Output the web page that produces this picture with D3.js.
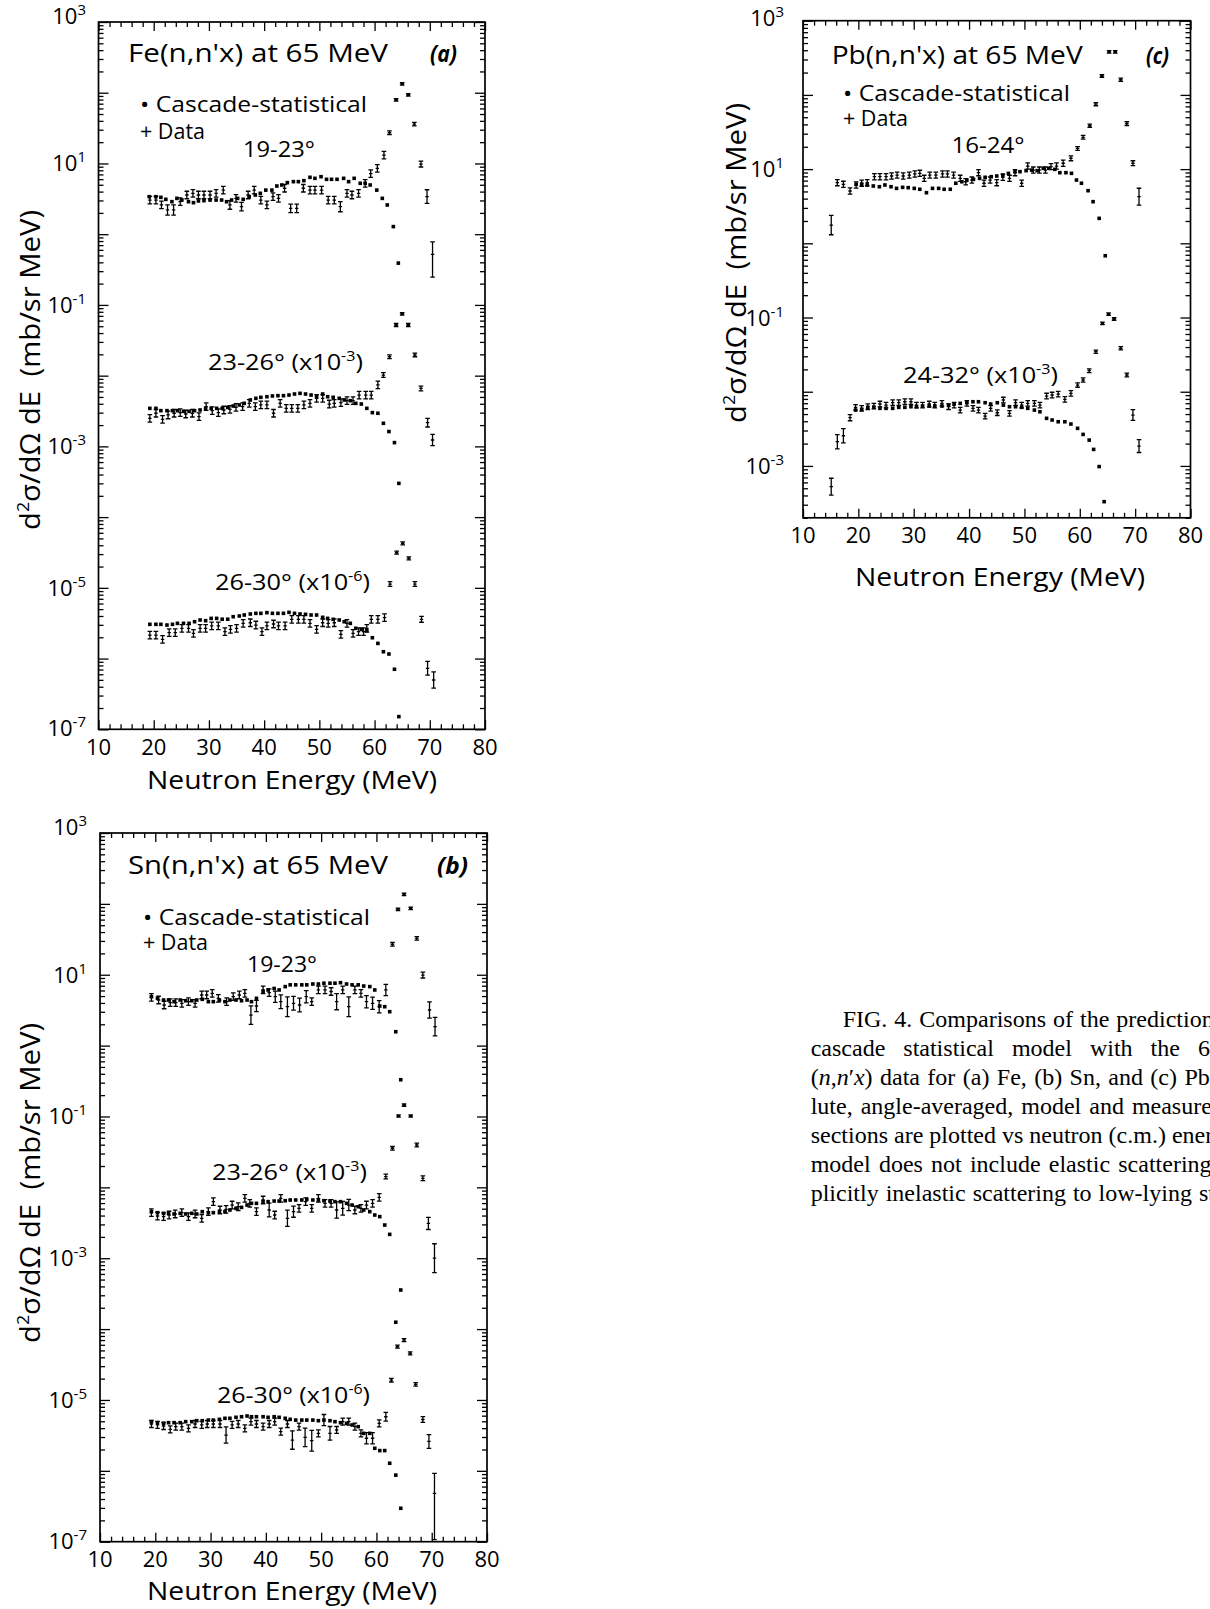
<!DOCTYPE html>
<html><head><meta charset="utf-8">
<script src="https://cdn.jsdelivr.net/npm/d3@7"></script>
<style>
body{margin:0;background:#fff}
svg{display:block}
text{font-family:'Open Sans',sans-serif;fill:#000}
.cap{font-family:'Liberation Serif','Times New Roman',serif;font-size:24px}
</style>
</head><body>
<svg id="fig" width="1210" height="1609"></svg>
<script>
// ---------------- data ----------------
const xTicks = [10,20,30,40,50,60,70,80];
const yLabelExpFull = [3,1,-1,-3,-5,-7];
const yLabelExpPb = [3,1,-1,-3];
const seriesScale = [1, 1e-3, 1e-6];

// (a) Fe 19-23 deg
const feM1E = [19.2,20.4,21.3,22.2,23.3,24.2,25.1,26.3,27.2,28.1,29.1,30.2,31.3,32.3,33.2,34.1,35.2,36.2,37.3,38.4,39.3,40.3,41.4,42.3,43.2,44.2,45.3,46.2,47.2,48.3,49.2,50.3,51.3,52.2,53.2,54.4,55.3,56.3,57.4,58.3,59.2,60.4,61.4,62.3,63.4,64.3];
const feM1V = [3.39,3.39,3.32,3.11,2.88,3.21,3.04,2.88,2.79,2.95,2.98,3.04,3.04,3.04,2.88,3.04,3.21,3.11,3.39,3.58,3.78,4.2,4.2,4.8,4.96,5.35,5.53,5.53,5.71,6.37,6.16,6.5,5.97,5.97,5.97,6.16,5.53,6.16,5.24,5.24,4.96,4.2,3.21,2.59,1.28,0.39];
const feD1E = [19.3,20.4,21.4,22.5,23.6,24.8,26.0,27.1,28.1,29.1,30.2,31.3,32.6,33.8,34.9,35.9,37.1,38.2,39.4,40.5,41.6,42.6,43.7,44.8,45.9,47.1,48.3,49.2,50.4,51.6,52.7,53.8,55.0,55.9,57.1,58.3,59.3,60.5,61.7,62.7,63.9,65.0,66.1,67.2,68.4,69.5,70.5];
const feD1V = [3.04,3.04,2.59,2.2,2.2,2.88,3.58,3.78,3.58,3.58,3.58,3.78,4.2,2.59,3.21,2.45,3.58,4.2,3.04,2.59,3.39,3.21,4.46,2.32,2.32,4.46,4.2,4.2,4.2,3.04,3.04,2.45,3.78,3.58,3.78,5.24,7.2,8.5,13.1,27.2,79,133,93,36,9.8,3.4,0.52];
const feD1F = [1.13,1.13,1.13,1.18,1.18,1.13,1.13,1.13,1.13,1.13,1.13,1.13,1.13,1.15,1.13,1.15,1.13,1.13,1.13,1.13,1.13,1.13,1.13,1.15,1.15,1.13,1.13,1.13,1.13,1.13,1.13,1.18,1.13,1.13,1.13,1.13,1.13,1.13,1.13,1.06,1.04,1.04,1.04,1.06,1.1,1.25,[2.1,1.5]];

// (a) Fe 23-26 deg (x10^-3)
const feM2E = [19.3,20.4,21.3,22.4,23.4,24.3,25.4,26.4,27.4,28.4,29.4,30.4,31.4,32.4,33.4,34.4,35.5,36.4,37.5,38.5,39.4,40.5,41.5,42.5,43.5,44.5,45.5,46.5,47.5,48.5,49.5,50.6,51.5,52.5,53.6,54.5,55.6,56.6,57.6,58.6,59.6,60.6,61.6,62.6,63.6,64.4];
const feM2V = [3.45,3.45,3.2,3.2,3.2,3.2,3.13,3.13,3.2,3.27,3.45,3.45,3.45,3.45,3.56,3.72,3.85,4.06,4.53,4.78,4.94,5.04,5.16,5.21,5.21,5.32,5.5,5.62,5.5,5.32,5.04,5.5,5.04,4.94,4.78,4.53,4.43,4.06,3.97,3.45,3.0,2.94,2.12,1.62,1.13,0.30];
const feD2E = [19.3,20.4,21.6,22.6,23.7,24.8,25.8,27.0,28.2,29.5,30.6,31.7,32.7,33.8,34.9,36.1,37.3,38.4,39.4,40.5,41.7,42.9,44.0,45.0,46.1,47.2,48.3,49.5,50.6,51.8,52.7,53.9,55.0,56.1,57.2,58.4,59.4,60.6,61.6,62.7,63.9,65.0,66.1,67.3,68.4,69.6,70.5];
const feD2V = [2.49,2.94,2.41,2.78,2.94,3.0,2.87,2.94,2.63,3.64,3.2,3.0,3.27,3.34,3.56,3.64,4.06,3.64,3.85,3.85,2.94,4.06,3.45,3.45,3.45,3.85,4.06,4.78,4.78,3.97,4.06,4.15,4.43,4.43,5.32,5.32,5.32,7.4,10.2,18.5,52,74.5,52,19.6,6.6,2.16,1.23];
const feD2F = [1.13,1.13,1.13,1.13,1.13,1.13,1.13,1.13,1.13,1.13,1.13,1.13,1.13,1.13,1.13,1.13,1.13,1.13,1.13,1.13,1.13,1.13,1.13,1.13,1.13,1.13,1.13,1.13,1.13,1.13,1.13,1.13,1.13,1.13,1.13,1.13,1.13,1.13,1.08,1.06,1.05,1.04,1.05,1.06,1.08,1.15,1.2];

// (a) Fe 26-30 deg (x10^-6)
const feM3V = [3.05,3.05,3.05,2.98,3.05,3.15,3.15,3.15,3.32,3.51,3.43,3.7,3.7,3.6,3.6,3.91,4.0,4.13,4.27,4.36,4.36,4.46,4.36,4.36,4.36,4.5,4.36,4.27,4.22,4.13,4.13,3.83,3.7,3.59,3.51,3.32,3.15,2.68,2.59,2.48,1.97,1.64,1.25,1.16,0.706,0.151];
const feD3E = [19.3,20.4,21.6,22.8,23.9,25.1,26.3,27.2,28.4,29.4,30.5,31.7,32.9,33.9,35.0,36.2,37.5,38.5,39.6,40.5,41.7,42.6,43.8,45.0,46.2,47.2,48.3,49.5,50.6,51.6,52.7,53.9,55.0,56.1,57.1,58.0,58.6,59.4,60.6,61.8,62.8,64.0,65.1,66.2,67.3,68.5,69.6,70.7];
const feD3V = [2.15,2.15,1.87,2.32,2.32,2.68,2.68,2.27,2.68,2.68,2.89,2.89,2.4,2.59,2.68,3.15,3.21,2.98,2.4,2.89,3.08,2.89,2.89,3.59,3.59,3.59,3.15,2.59,3.21,3.15,3.21,2.2,3.15,2.27,2.4,2.4,2.68,3.59,3.59,3.79,11.3,31.4,42.5,26.1,11.3,3.59,0.728,0.498];
const feD3F = [1.13,1.13,1.13,1.13,1.13,1.13,1.13,1.13,1.13,1.13,1.13,1.13,1.13,1.13,1.13,1.13,1.13,1.13,1.13,1.13,1.13,1.13,1.13,1.13,1.13,1.13,1.13,1.13,1.13,1.13,1.13,1.13,1.13,1.13,1.13,1.13,1.13,1.13,1.13,1.13,1.08,1.05,1.05,1.05,1.08,1.1,1.25,1.3];

// (b) Sn 19-23 deg
const snME = [19.3,20.4,21.5,22.4,23.4,24.5,25.5,26.6,27.5,28.5,29.6,30.5,31.6,32.6,33.5,34.6,35.6,36.6,37.4,38.3,39.5,40.4,41.5,42.4,43.5,44.4,45.4,46.5,47.4,48.5,49.5,50.5,51.6,52.5,53.5,54.6,55.6,56.7,57.7,58.8,59.7,60.6,61.5,62.4,63.5,64.4];
const snM1V = [4.9,4.65,4.4,4.4,4.17,4.4,4.3,4.3,4.4,4.5,4.17,4.17,4.4,4.17,4.4,4.4,4.3,4.4,4.17,4.65,5.8,6.1,6.4,6.1,6.8,7.2,7.2,7.2,7.2,7.4,7.4,7.6,7.6,7.6,7.73,7.4,7.2,7.2,6.93,6.8,6.1,3.62,3.54,3.01,1.57,0.33];
const snD1E = [19.3,20.6,21.6,22.7,23.7,24.8,26.0,27.2,28.4,29.3,30.3,31.4,32.9,34.1,35.2,36.2,37.3,38.3,39.5,40.6,41.7,42.7,43.9,45.0,46.1,47.3,48.3,49.5,50.7,51.8,52.8,53.9,55.0,56.1,57.2,58.2,59.3,60.5,61.7,62.9,63.9,65.0,66.2,67.3,68.4,69.6,70.6];
const snD1V = [4.8,4.4,3.74,4.04,4.04,3.95,4.17,3.95,5.18,5.18,5.47,4.65,4.17,4.9,5.18,5.47,2.7,3.62,6.1,5.58,4.9,4.17,3.54,3.95,3.74,4.9,4.17,6.1,6.1,5.8,4.17,6.1,3.54,6.1,5.47,4.17,3.95,3.54,6.1,26.9,83.8,136,86.5,32.6,9.9,3.18,1.85];
const snD1F = [1.13,1.13,1.13,1.13,1.13,1.13,1.13,1.13,1.13,1.13,1.13,1.13,1.13,1.13,1.13,1.13,1.35,1.2,1.13,1.13,1.2,1.25,1.38,1.25,1.25,1.22,1.13,1.13,1.13,1.13,1.3,1.13,1.38,1.13,1.13,1.22,1.22,1.22,1.2,1.06,1.04,1.04,1.04,1.06,1.1,1.3,1.35];

// (b) Sn 23-26 deg (x10^-3)
const snM2V = [4.54,4.39,4.3,4.3,4.21,4.3,4.21,4.3,4.21,4.54,4.39,4.39,4.54,4.54,4.79,5.06,5.22,5.63,5.95,5.95,6.28,6.28,6.41,6.41,6.48,6.63,6.63,6.63,6.78,6.63,6.63,6.48,6.41,6.28,6.28,5.95,5.63,5.33,4.79,4.54,4.07,3.86,2.94,2.17,0.125,0.356];
const snD2E = [19.3,20.4,21.5,22.5,23.6,24.8,26.0,27.2,28.4,29.6,30.5,31.7,32.8,33.9,35.0,36.2,37.1,38.3,39.5,40.6,41.6,42.7,43.9,45.0,46.0,47.2,48.3,49.5,50.7,51.8,52.8,53.9,55.0,56.1,57.2,58.2,59.3,60.5,61.7,62.9,64.0,65.0,66.2,67.3,68.4,69.4,70.5];
const snD2V = [4.39,3.94,3.86,4.07,4.21,4.39,3.86,4.21,3.66,4.54,6.28,4.79,4.9,5.63,5.33,7.0,5.95,4.54,6.63,4.79,4.07,7.0,3.66,4.54,5.06,6.28,5.06,7.0,5.95,5.95,4.79,5.06,5.63,4.79,5.06,5.63,5.95,7.23,14.2,35.6,101.6,145,101.6,39.6,13.4,3.1,1.0];
const snD2F = [1.13,1.13,1.13,1.13,1.13,1.13,1.13,1.13,1.13,1.13,1.13,1.13,1.13,1.13,1.13,1.13,1.13,1.13,1.13,1.25,1.13,1.13,1.3,1.2,1.13,1.13,1.13,1.13,1.13,1.13,1.3,1.25,1.2,1.13,1.13,1.13,1.13,1.13,1.08,1.06,1.04,1.04,1.04,1.06,1.08,1.22,1.6];

// (b) Sn 26-30 deg (x10^-6)
const snM3V = [4.94,4.78,4.68,4.78,4.78,4.78,4.94,4.94,5.1,5.1,5.2,5.2,5.33,5.51,5.51,5.69,5.8,5.94,5.8,5.8,5.8,5.69,5.8,5.69,5.51,5.33,5.2,5.2,5.2,5.2,5.1,5.2,5.1,4.94,4.78,4.68,4.44,4.2,3.38,3.38,2.08,1.93,1.93,1.28,0.87,0.296];
const snD3E = [19.3,20.4,21.5,22.7,23.7,24.8,26.0,27.2,28.4,29.4,30.5,31.7,32.8,33.9,35.0,36.2,37.3,38.3,39.5,40.6,41.6,42.7,43.9,44.8,46.0,47.1,48.3,49.5,50.5,51.6,52.8,53.9,55.0,56.1,57.2,58.2,59.3,60.5,61.7,62.7,63.8,65.0,66.1,67.1,68.4,69.5,70.5];
const snD3V = [4.58,4.44,4.29,3.85,4.2,4.2,3.98,4.58,4.44,4.58,4.58,4.58,3.2,4.44,4.58,3.98,4.94,4.58,4.2,4.58,4.94,3.57,4.58,2.72,4.2,2.97,2.66,3.38,5.2,3.38,3.77,4.94,4.94,4.2,3.38,2.88,2.88,4.68,5.8,19,56.5,70,45.5,16.6,5.3,2.6,0.48];
const snD3F = [1.12,1.12,1.12,1.12,1.12,1.12,1.12,1.12,1.12,1.12,1.12,1.12,1.3,1.12,1.12,1.12,1.12,1.12,1.12,1.12,1.12,1.12,1.12,1.35,1.12,1.35,1.4,1.12,1.2,1.25,1.12,1.12,1.12,1.12,1.12,1.2,1.2,1.12,1.15,1.06,1.05,1.05,1.05,1.06,1.1,1.25,[4.5,1.92]];

// (c) Pb 16-24 deg
const pbM1E = [19.6,20.6,21.6,22.7,23.8,24.8,25.9,26.9,28.0,29.0,30.1,31.1,32.3,33.4,34.5,35.5,36.6,37.6,38.7,39.6,40.8,41.9,42.9,44.0,45.0,46.1,47.1,48.3,49.2,50.3,51.3,52.3,53.4,54.4,55.5,56.4,57.5,58.5,59.4,60.3,61.5,62.4,63.5,64.6];
const pbM1V = [6.24,6.24,6.11,5.92,5.79,6.11,5.79,5.5,5.68,5.62,5.5,5.35,4.81,5.5,5.5,5.35,5.35,6.45,6.76,7.12,7.28,7.51,7.75,7.9,8.07,8.3,8.77,9.23,9.23,9.53,9.7,9.53,10.26,10.26,9.93,8.95,8.95,8.77,7.12,6.45,5.12,3.64,2.17,0.68];
const pbD1E = [15.1,16.2,17.3,18.5,19.6,20.6,21.6,22.9,23.9,25.0,26.0,27.0,28.1,29.2,30.2,31.1,31.9,32.9,34.0,35.2,36.1,37.2,38.4,39.4,40.5,41.7,42.7,43.8,45.0,46.1,47.3,48.3,49.5,50.6,51.6,52.7,53.8,54.8,55.8,57.0,58.4,59.6,60.6,61.8,62.9,64.0,65.3,66.4,67.4,68.5,69.6,70.7];
const pbD1V = [1.76,6.56,6.24,5.07,6.11,6.45,6.56,7.9,7.9,7.9,8.07,8.3,8.07,8.3,8.6,8.77,7.51,8.3,8.3,8.6,8.6,8.3,7.51,6.76,7.12,8.95,6.45,7.12,6.56,7.75,7.51,8.95,6.45,11.0,9.7,9.7,9.7,10.8,11.0,12.0,14.0,19.0,26.8,38.5,75,180,380,380,160,41,12,4.25];
const pbD1F = [1.35,1.1,1.1,1.1,1.1,1.1,1.1,1.1,1.1,1.1,1.1,1.1,1.1,1.1,1.1,1.1,1.1,1.1,1.1,1.1,1.1,1.1,1.1,1.1,1.1,1.1,1.1,1.1,1.1,1.1,1.1,1.1,1.1,1.1,1.1,1.1,1.1,1.1,1.1,1.1,1.08,1.06,1.06,1.05,1.05,1.04,1.04,1.04,1.05,1.06,1.08,1.3];

// (c) Pb 24-32 deg (x10^-3)
const pbM2E = [19.5,20.6,21.7,22.8,23.9,25.0,26.2,27.3,28.4,29.5,30.5,31.6,32.8,33.8,35.1,36.3,37.3,38.4,39.6,40.7,41.7,42.9,43.9,45.1,46.2,47.3,48.4,49.5,50.6,51.8,52.8,54.0,55.0,56.1,57.3,58.4,59.6,60.6,61.7,62.5,63.5,64.4];
const pbM2V = [5.66,5.78,6.16,6.16,5.97,5.97,5.97,6.16,6.16,6.28,6.28,6.41,6.41,6.41,6.41,6.6,6.83,6.97,7.11,7.33,7.33,7.11,6.83,7.11,6.6,6.28,6.28,6.16,5.97,5.66,5.37,4.38,4.16,3.94,3.94,3.67,3.21,2.66,2.23,1.67,0.98,0.33];
const pbD2E = [15.1,16.2,17.3,18.5,19.5,20.6,21.7,22.8,23.9,25.0,26.2,27.3,28.4,29.5,30.5,31.6,32.8,33.8,35.1,36.3,37.3,38.4,39.6,40.7,41.7,42.9,43.9,45.1,46.2,47.3,48.4,49.5,50.6,51.8,52.8,54.0,55.0,56.1,57.3,58.4,59.6,60.6,61.7,62.9,64.1,65.2,66.2,67.4,68.5,69.6,70.7];
const pbD2V = [0.525,2.12,2.55,4.47,6.16,5.97,6.28,6.41,6.83,6.6,7.11,7.11,7.33,7.33,6.6,6.6,6.83,6.6,6.97,6.28,6.6,5.66,6.97,5.97,5.66,4.7,5.97,5.21,7.73,5.11,7.11,6.6,6.97,6.97,6.6,8.75,9.03,9.3,7.9,9.5,12.3,14.4,19.2,34.6,83.5,111,95.5,38.5,16.8,4.85,1.85];
const pbD2F = [1.3,1.25,1.25,1.1,1.09,1.09,1.09,1.09,1.09,1.09,1.09,1.09,1.09,1.09,1.09,1.09,1.09,1.09,1.09,1.09,1.09,1.09,1.09,1.09,1.09,1.09,1.09,1.09,1.09,1.09,1.09,1.09,1.09,1.09,1.09,1.09,1.09,1.09,1.09,1.09,1.07,1.07,1.06,1.05,1.04,1.04,1.04,1.05,1.06,1.18,1.22];

// ---------------- layout ----------------
const panels = [
  { title:"Fe(n,n'x) at 65 MeV", tag:"(a)", l:98.5, r:485, t:22, b:729.3, ymin:1e-7, ymax:1e3, labExp:yLabelExpFull,
    labEnd:86, topOff:2, xLabBase:754.5, yTitleX:40, yTitleCy:370, xTitleBase:789, xTitleCx:292,
    titlePos:[128,62,260], tagPos:[430,62,27], legX:143, legY:[112,139],
    series:[
      {name:"19-23°", sc:0, mE:feM1E, mV:feM1V, dE:feD1E, dV:feD1V, dF:feD1F, lab:[279,157,'middle',72]},
      {name:"23-26°", sc:1, mE:feM2E, mV:feM2V, dE:feD2E, dV:feD2V, dF:feD2F, lab:[208,370,'start',155]},
      {name:"26-30°", sc:2, mE:feM2E, mV:feM3V, dE:feD3E, dV:feD3V, dF:feD3F, lab:[215,589.5,'start',155]}
    ]},
  { title:"Sn(n,n'x) at 65 MeV", tag:"(b)", l:100, r:487, t:833, b:1541.7, ymin:1e-7, ymax:1e3, labExp:yLabelExpFull,
    labEnd:87, topOff:2, xLabBase:1566.5, yTitleX:40, yTitleCy:1183, xTitleBase:1600, xTitleCx:292,
    titlePos:[128,874,260], tagPos:[437,874,31], legX:146, legY:[925,950],
    series:[
      {name:"19-23°", sc:0, mE:snME, mV:snM1V, dE:snD1E, dV:snD1V, dF:snD1F, lab:[282,972,'middle',70]},
      {name:"23-26°", sc:1, mE:snME, mV:snM2V, dE:snD2E, dV:snD2V, dF:snD2F, lab:[212,1180,'start',155]},
      {name:"26-30°", sc:2, mE:snME, mV:snM3V, dE:snD3E, dV:snD3V, dF:snD3F, lab:[217,1403,'start',153]}
    ]},
  { title:"Pb(n,n'x) at 65 MeV", tag:"(c)", l:803, r:1190.5, t:20.7, b:517.8, ymin:2e-4, ymax:1e3, labExp:yLabelExpPb,
    labEnd:784, topOff:5, xLabBase:543, yTitleX:746, yTitleCy:263, xTitleBase:586, xTitleCx:1000,
    titlePos:[831.7,64,251], tagPos:[1146,64,23], legX:846, legY:[101,126],
    series:[
      {name:"16-24°", sc:0, mE:pbM1E, mV:pbM1V, dE:pbD1E, dV:pbD1V, dF:pbD1F, lab:[988,153,'middle',73]},
      {name:"24-32°", sc:1, mE:pbM2E, mV:pbM2V, dE:pbD2E, dV:pbD2V, dF:pbD2F, lab:[903,383,'start',155]}
    ]}
];
const scaleExp = ['', '-3', '-6'];

const svg = d3.select('#fig');
const defs = svg.append('defs');

function addSup(textSel, base, exp, supSize, rise, tail) {
  textSel.append('tspan').text(base);
  textSel.append('tspan').attr('dy', -rise).attr('font-size', supSize).text(exp);
  if (tail !== undefined) textSel.append('tspan').attr('dy', rise).text(tail);
}

panels.forEach((P, pi) => {
  const x = d3.scaleLinear().domain([xTicks[0], xTicks[xTicks.length-1]]).range([P.l, P.r]);
  const y = d3.scaleLog().domain([P.ymin, P.ymax]).range([P.b, P.t]);
  const g = svg.append('g');

  const xMinor = [];
  for (let i = 0; i < xTicks.length-1; i++) for (let k = 1; k < 5; k++) xMinor.push(xTicks[i] + k*(xTicks[i+1]-xTicks[i])/5);
  const e0 = Math.floor(Math.log10(P.ymin)), e1 = Math.round(Math.log10(P.ymax));
  const yMajor = [], yMinor = [];
  for (let e = e0; e <= e1; e++) {
    const v = Math.pow(10, e);
    if (v >= P.ymin*0.999) yMajor.push(v);
    for (let m = 2; m < 10; m++) { const w = m*v; if (w >= P.ymin && w <= P.ymax) yMinor.push(w); }
  }

  const axes = [
    [d3.axisBottom(x).tickValues(xTicks).tickSize(-9), `translate(0,${P.b})`],
    [d3.axisBottom(x).tickValues(xMinor).tickSize(-5), `translate(0,${P.b})`],
    [d3.axisTop(x).tickValues(xTicks).tickSize(-9), `translate(0,${P.t})`],
    [d3.axisTop(x).tickValues(xMinor).tickSize(-5), `translate(0,${P.t})`],
    [d3.axisLeft(y).tickValues(yMajor).tickSize(-10), `translate(${P.l},0)`],
    [d3.axisLeft(y).tickValues(yMinor).tickSize(-5), `translate(${P.l},0)`],
    [d3.axisRight(y).tickValues(yMajor).tickSize(-10), `translate(${P.r},0)`],
    [d3.axisRight(y).tickValues(yMinor).tickSize(-5), `translate(${P.r},0)`]
  ];
  axes.forEach(([ax, tr]) => {
    const a = g.append('g').attr('transform', tr).call(ax.tickFormat(''));
    a.select('.domain').remove();
    a.selectAll('line').attr('stroke', '#000').attr('stroke-width', 1.3);
  });

  g.append('rect').attr('x', P.l).attr('y', P.t).attr('width', P.r-P.l).attr('height', P.b-P.t)
    .attr('fill', 'none').attr('stroke', '#000').attr('stroke-width', 1.7);

  g.selectAll(null).data(xTicks).join('text')
    .attr('x', d => x(d)).attr('y', P.xLabBase).attr('text-anchor', 'middle').attr('font-size', 22)
    .text(d => d);

  P.labExp.forEach((e, i) => {
    const yy = y(Math.pow(10, e));
    const off = i === 0 ? P.topOff : (Math.pow(10, e) <= P.ymin*1.001 ? 7 : 8);
    const t = g.append('text').attr('x', P.labEnd).attr('y', yy + off).attr('text-anchor', 'end').attr('font-size', 22);
    addSup(t, '10', String(e), 15, 9);
  });

  g.append('text').attr('x', P.xTitleCx).attr('y', P.xTitleBase).attr('text-anchor', 'middle')
    .attr('font-size', 26).attr('textLength', 290).attr('lengthAdjust', 'spacingAndGlyphs').text('Neutron Energy (MeV)');
  const yt = g.append('text').attr('transform', `translate(${P.yTitleX},${P.yTitleCy}) rotate(-90)`)
    .attr('text-anchor', 'middle').attr('font-size', 28).attr('textLength', 320).attr('lengthAdjust', 'spacingAndGlyphs');
  yt.append('tspan').text('d');
  yt.append('tspan').attr('dy', -11).attr('font-size', 17).text('2');
  yt.append('tspan').attr('dy', 11).text('σ/dΩ dE\u2002(mb/sr MeV)');

  g.append('text').attr('x', P.titlePos[0]).attr('y', P.titlePos[1]).attr('font-size', 26)
    .attr('textLength', P.titlePos[2]).attr('lengthAdjust', 'spacingAndGlyphs').text(P.title);
  g.append('text').attr('x', P.tagPos[0]).attr('y', P.tagPos[1]).attr('font-size', 24)
    .attr('font-weight', 'bold').attr('font-style', 'italic')
    .attr('textLength', P.tagPos[2]).attr('lengthAdjust', 'spacingAndGlyphs').text(P.tag);
  g.append('text').attr('x', P.legX - 3).attr('y', P.legY[0]).attr('font-size', 21)
    .attr('textLength', 227).attr('lengthAdjust', 'spacingAndGlyphs').text('• Cascade-statistical');
  g.append('text').attr('x', P.legX - 3).attr('y', P.legY[1]).attr('font-size', 21)
    .attr('textLength', 65).attr('lengthAdjust', 'spacingAndGlyphs').text('+ Data');

  const clipId = 'clip' + pi;
  defs.append('clipPath').attr('id', clipId).append('rect')
    .attr('x', P.l).attr('y', P.t).attr('width', P.r-P.l).attr('height', P.b-P.t);
  const mg = g.append('g').attr('clip-path', `url(#${clipId})`);

  P.series.forEach(s => {
    const k = seriesScale[s.sc];
    const mp = d3.zip(s.mE, s.mV).map(([E, v]) => ({E, v: v*k}));
    mg.append('g').selectAll('rect').data(mp).join('rect')
      .attr('x', d => x(d.E) - 1.8).attr('y', d => y(d.v) - 1.8)
      .attr('width', 3.6).attr('height', 3.6).attr('fill', '#000');
    const dp = d3.zip(s.dE, s.dV, s.dF).map(([E, v, f]) => ({E, v: v*k, f}));
    mg.append('g').selectAll('path').data(dp).join('path')
      .attr('fill', 'none').attr('stroke', '#000').attr('stroke-width', 1.3)
      .attr('d', d => {
        const fd = Array.isArray(d.f) ? d.f[0] : d.f, fu = Array.isArray(d.f) ? d.f[1] : d.f;
        const X = x(d.E), Y = y(d.v), y1 = y(d.v*fu), y2 = y(d.v/fd), c = 2.3, h = 1.7;
        return `M${X},${y1}V${y2}M${X-c},${y1}H${X+c}M${X-c},${y2}H${X+c}M${X-h},${Y}H${X+h}`;
      });

    const t = g.append('text').attr('x', s.lab[0]).attr('y', s.lab[1]).attr('text-anchor', s.lab[2])
      .attr('font-size', 22).attr('textLength', s.lab[3]).attr('lengthAdjust', 'spacingAndGlyphs');
    if (s.sc === 0) t.text(s.name);
    else addSup(t, s.name + ' (x10', scaleExp[s.sc], 14, 9, ')');
  });
});

const capLines = [
  {x:842.7, y:1026.5, ws:1, parts:[["FIG. 4. Comparisons of the predictions of the"]]},
  {x:810.7, y:1055.5, ws:12, parts:[["cascade statistical model with the 65 MeV"]]},
  {x:810.7, y:1084.5, ws:1.4, parts:[["("],["n",1],[","],["n",1],["′"],["x",1],[") data for (a) Fe, (b) Sn, and (c) Pb. Abso-"]]},
  {x:810.7, y:1113.5, ws:2, parts:[["lute, angle-averaged, model and measured cross"]]},
  {x:810.7, y:1142.5, ws:0, parts:[["sections are plotted vs neutron (c.m.) energy. The"]]},
  {x:810.7, y:1171.5, ws:2.2, parts:[["model does not include elastic scattering or ex-"]]},
  {x:810.7, y:1200.5, ws:1, parts:[["plicitly inelastic scattering to low-lying states."]]}
];
capLines.forEach(L => {
  const t = svg.append('text').attr('class', 'cap').attr('x', L.x).attr('y', L.y)
    .attr('word-spacing', L.ws).style('white-space', 'pre');
  L.parts.forEach(([s, it]) => {
    const sp = t.append('tspan').text(s);
    if (it) sp.attr('font-style', 'italic');
  });
});
</script>
</body></html>
